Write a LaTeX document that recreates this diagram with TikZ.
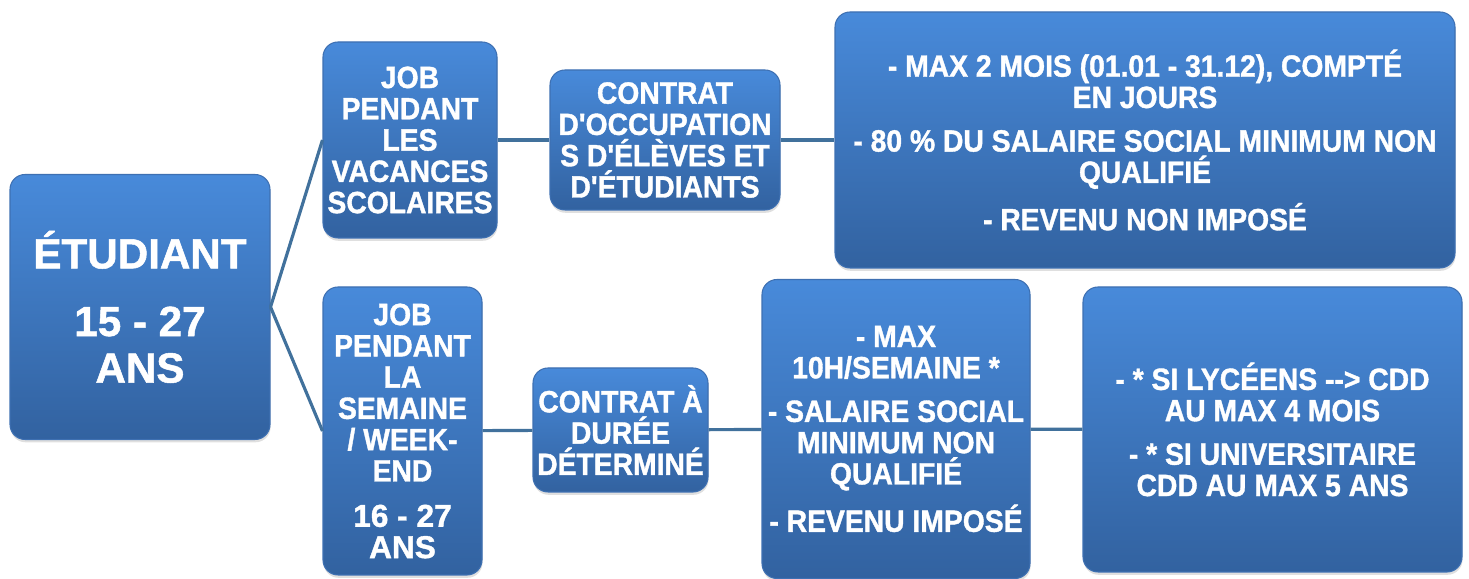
\documentclass[tikz,border=0pt]{standalone}
\usepackage{fontspec}
\setmainfont{Liberation Sans}
\newfontfamily\condfont{Liberation Sans}[FakeStretch=0.92, FakeBold=1.2]
\newfontfamily\heavyfont{Liberation Sans}[FakeBold=1.2]
\usetikzlibrary{shadows}

\definecolor{boxtop}{RGB}{72,138,218}
\definecolor{boxbot}{RGB}{50,98,160}
\definecolor{boxline}{RGB}{62,112,178}
\definecolor{linkblue}{RGB}{65,113,156}

\begin{document}
\begin{tikzpicture}[
    box/.style={rectangle, rounded corners=0.3cm, top color=boxtop, bottom color=boxbot,
        draw=boxline, line width=0.6pt, text=white, align=center, inner sep=2pt,
        drop shadow={opacity=0.25, shadow xshift=0.3pt, shadow yshift=-1.6pt},
        font=\condfont\bfseries\fontsize{17.5}{17.8}\selectfont},
    link/.style={draw=linkblue, line width=1.8pt}
]
\useasboundingbox (0,0) rectangle (29.38,11.58);

% Root
\node[box, minimum width=5.2cm, minimum height=5.3cm,
      font=\heavyfont\bfseries\fontsize{24}{26.5}\selectfont] (etud) at (2.80,5.44)
      {ÉTUDIANT\\[12pt]15 - 27\\ANS};

% Upper branch: school holidays
\node[box, minimum width=3.48cm, minimum height=3.92cm] (jobvac) at (8.20,8.78)
      {JOB\\PENDANT\\LES\\VACANCES\\SCOLAIRES};
\node[box, minimum width=4.6cm, minimum height=2.8cm] (occup) at (13.30,8.78)
      {CONTRAT\\D'OCCUPATION\\S D'ÉLÈVES ET\\D'ÉTUDIANTS};
\node[box, minimum width=12.4cm, minimum height=5.12cm] (occupinfo) at (22.90,8.78)
      {- MAX 2 MOIS (01.01 - 31.12), COMPTÉ\\EN JOURS\\[7pt]
       - 80 \% DU SALAIRE SOCIAL MINIMUM NON\\QUALIFIÉ\\[7pt]
       - REVENU NON IMPOSÉ};

% Lower branch: week / week-end
\node[box, minimum width=3.18cm, minimum height=5.76cm] (jobsem) at (8.05,2.96)
      {JOB\\PENDANT\\LA\\SEMAINE\\/ WEEK-\\END\\[8pt]
       {\heavyfont\bfseries\fontsize{18}{17.8}\selectfont 16 - 27}\\
       {\heavyfont\bfseries\fontsize{18}{17.8}\selectfont ANS}};
\node[box, minimum width=3.5cm, minimum height=2.48cm] (cdd) at (12.41,2.98)
      {CONTRAT À\\DURÉE\\DÉTERMINÉ};
\node[box, minimum width=5.36cm, minimum height=5.98cm] (cddinfo) at (17.92,3.00)
      {- MAX\\10H/SEMAINE *\\[7pt]
       - SALAIRE SOCIAL\\MINIMUM NON\\QUALIFIÉ\\[7pt]
       - REVENU IMPOSÉ};
\node[box, minimum width=7.58cm, minimum height=5.7cm] (cddnote) at (25.45,2.99)
      {- * SI LYCÉENS -{}-> CDD\\AU MAX 4 MOIS\\[7pt]
       - * SI UNIVERSITAIRE\\CDD AU MAX 5 ANS};

% Connectors
\draw[link] (etud.east) -- (jobvac.west);
\draw[link] (etud.east) -- (jobsem.west);
\draw[link] (jobvac) -- (occup);
\draw[link] (occup) -- (occupinfo);
\draw[link] (jobsem) -- (cdd);
\draw[link] (cdd) -- (cddinfo);
\draw[link] (cddinfo) -- (cddnote);

\end{tikzpicture}
\end{document}
